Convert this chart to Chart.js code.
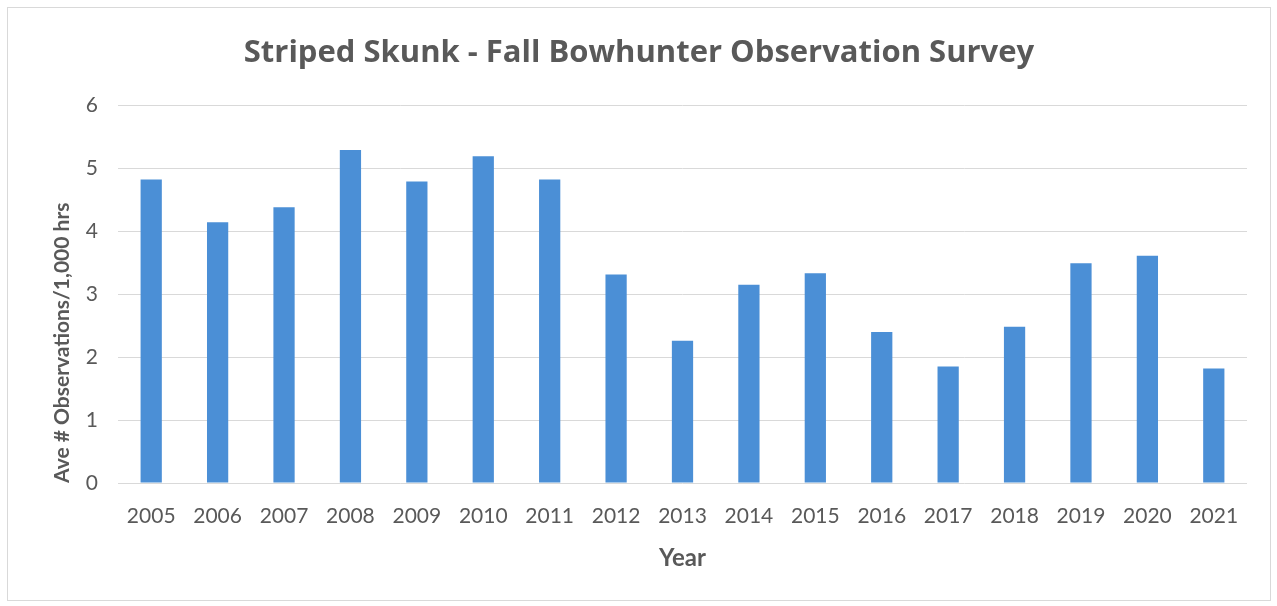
<!DOCTYPE html>
<html>
<head>
<meta charset="utf-8">
<script src="https://cdn.jsdelivr.net/npm/chart.js@4"></script>
<style>
  html, body { margin: 0; padding: 0; background: #fff; }
  #box {
    position: absolute; left: 7px; top: 7px;
    width: 1262px; height: 592px;
    border: 1px solid #d9d9d9;
  }
</style>
</head>
<body>
<div id="box"><canvas id="chart" width="1262" height="592"></canvas></div>
<script>
// データ
const years = ["2005", "2006", "2007", "2008", "2009", "2010", "2011", "2012", "2013",
  "2014", "2015", "2016", "2017", "2018", "2019", "2020", "2021"]
const observations = [4.82, 4.14, 4.38, 5.29, 4.79, 5.19, 4.82, 3.31, 2.26,
  3.15, 3.33, 2.40, 1.85, 2.48, 3.49, 3.61, 1.82]
const yTicks = [0, 1, 2, 3, 4, 5, 6]

const textColor = "#595959"
const fontFamily = "Lato, 'Open Sans', sans-serif"

new Chart(document.getElementById("chart"), {
  type: "bar",
  data: {
    labels: years,
    datasets: [{
      label: "Striped Skunk",
      data: observations,
      backgroundColor: "#4b8fd6",
      categoryPercentage: 1,
      barPercentage: 0.32
    }]
  },
  options: {
    responsive: false,
    animation: false,
    layout: { padding: { left: 23, right: 23, top: 0, bottom: 0 } },
    plugins: {
      legend: { display: false },
      tooltip: { enabled: false },
      title: {
        display: true,
        text: "Striped Skunk - Fall Bowhunter Observation Survey",
        color: textColor,
        font: { family: "'Open Sans', sans-serif", size: 31, weight: "bold" },
        padding: { top: 27, bottom: 33 }
      }
    },
    scales: {
      x: {
        grid: { display: false },
        border: { display: false },
        ticks: { color: textColor, font: { family: fontFamily, size: 21 }, padding: 13, maxRotation: 0 },
        title: {
          display: true,
          text: "Year",
          color: textColor,
          font: { family: fontFamily, size: 24, weight: "bold" },
          padding: { top: 0, bottom: 27 }
        },
        afterFit: scale => { scale.height = 117 }
      },
      y: {
        min: 0,
        max: 6,
        afterBuildTicks: scale => { scale.ticks = yTicks.map(v => ({ value: v })) },
        grid: { color: "#d9d9d9", lineWidth: 1, drawTicks: false },
        border: { display: false },
        ticks: { color: textColor, font: { family: fontFamily, size: 21 }, padding: 20 },
        title: {
          display: true,
          text: "Ave # Observations/1,000 hrs",
          align: "start",
          color: textColor,
          font: { family: fontFamily, size: 21, weight: "bold" },
          padding: { top: 19, bottom: 0 }
        },
        afterFit: scale => { scale.width = 87 }
      }
    }
  }
})
</script>
</body>
</html>
